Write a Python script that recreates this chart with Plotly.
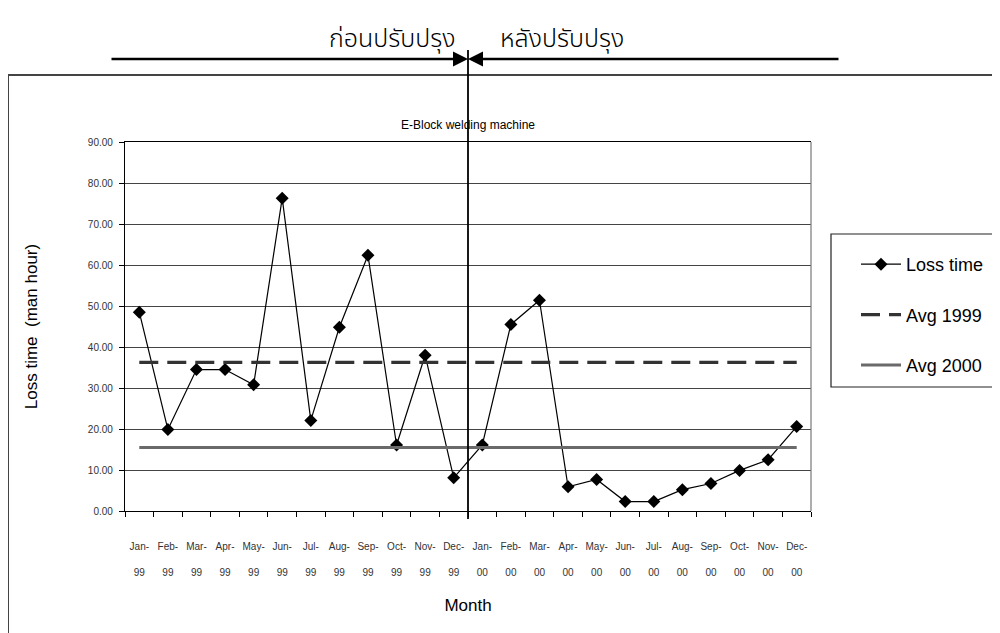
import plotly.graph_objects as go

months = ["Jan-<br><br>99", "Feb-<br><br>99", "Mar-<br><br>99", "Apr-<br><br>99", "May-<br><br>99", "Jun-<br><br>99",
          "Jul-<br><br>99", "Aug-<br><br>99", "Sep-<br><br>99", "Oct-<br><br>99", "Nov-<br><br>99", "Dec-<br><br>99",
          "Jan-<br><br>00", "Feb-<br><br>00", "Mar-<br><br>00", "Apr-<br><br>00", "May-<br><br>00", "Jun-<br><br>00",
          "Jul-<br><br>00", "Aug-<br><br>00", "Sep-<br><br>00", "Oct-<br><br>00", "Nov-<br><br>00", "Dec-<br><br>00"]
loss_time = [48.5, 19.9, 34.5, 34.5, 30.8, 76.3, 22.1, 44.8, 62.4, 16.1, 38.0, 8.1,
             16.1, 45.5, 51.4, 5.9, 7.7, 2.3, 2.3, 5.2, 6.7, 9.9, 12.5, 20.6]
avg_1999 = [36.25] * len(months)
avg_2000 = [15.5] * len(months)

FONT = "Arial, Liberation Sans, sans-serif"
THAI = "Noto Sans Thai, Loma, Garuda, sans-serif"

# the page body has an 8px margin, so page coordinates are offset by 8px
OFF = 8

fig = go.Figure()
fig.add_trace(go.Scatter(x=months, y=loss_time, name="Loss time", mode="lines+markers",
                         line=dict(color="black", width=1.2),
                         marker=dict(symbol="diamond", size=10, color="black"),
                         legendgroup="a"))
fig.add_trace(go.Scatter(x=months, y=avg_1999, name="Avg 1999", mode="lines",
                         line=dict(color="#333333", width=3.2, dash="19px,9px"),
                         legendgroup="b"))
fig.add_trace(go.Scatter(x=months, y=avg_2000, name="Avg 2000", mode="lines",
                         line=dict(color="#6a6a6a", width=3),
                         legendgroup="c"))

def px_x(p):
    return (p - 125) / 686.0

def px_y(p):
    return (511 - p) / 369.0

shapes = [
    # outer frame
    dict(type="rect", xref="paper", yref="paper", x0=px_x(8), x1=px_x(1010), y0=px_y(650), y1=px_y(75),
         line=dict(color="#444444", width=2), layer="below"),
    # right border of plot area
    dict(type="line", xref="paper", yref="paper", x0=1, x1=1, y0=0, y1=1,
         line=dict(color="#777777", width=1.2)),
    # legend box
    dict(type="rect", xref="paper", yref="paper", x0=px_x(831), x1=px_x(1010), y0=px_y(387), y1=px_y(234),
         line=dict(color="#222222", width=1.2)),
    # divider between before/after improvement
    dict(type="line", xref="x", yref="paper", x0=11.5, x1=11.5, y0=px_y(519), y1=px_y(50),
         line=dict(color="black", width=1.8)),
]

annotations = [
    dict(text="ก่อนปรับปรุง", xref="paper", yref="paper", x=px_x(392), y=px_y(39),
         showarrow=False, font=dict(family=THAI, size=25, color="black", weight=300),
         xanchor="center", yanchor="middle"),
    dict(text="หลังปรับปรุง", xref="paper", yref="paper", x=px_x(562), y=px_y(39),
         showarrow=False, font=dict(family=THAI, size=25, color="black", weight=300),
         xanchor="center", yanchor="middle"),
    dict(text="", xref="x", yref="paper", x=11.5, y=px_y(59), ax=-358, ay=0, axref="pixel", ayref="pixel",
         showarrow=True, arrowhead=2, arrowsize=1.2, arrowwidth=2.5, arrowcolor="black", standoff=0),
    dict(text="", xref="x", yref="paper", x=11.5, y=px_y(59), ax=372, ay=0, axref="pixel", ayref="pixel",
         showarrow=True, arrowhead=2, arrowsize=1.2, arrowwidth=2.5, arrowcolor="black", standoff=0),
]

fig.update_layout(
    width=1000, height=633,
    margin=dict(l=125 - OFF, r=189 + OFF, t=142 - OFF, b=122 + OFF, autoexpand=False),
    paper_bgcolor="white", plot_bgcolor="white",
    font=dict(family=FONT, color="black"),
    title=dict(text="E-Block welding machine", x=(468 - OFF) / 1000.0, xref="container", xanchor="center",
               y=1 - (125 - OFF) / 633.0, yref="container", yanchor="middle",
               font=dict(family=FONT, size=12, color="black")),
    showlegend=True,
    legend=dict(x=px_x(856), y=px_y(246), xanchor="left", yanchor="top",
                font=dict(family=FONT, size=18, color="black"),
                bgcolor="rgba(0,0,0,0)", borderwidth=0, tracegroupgap=24,
                itemwidth=40),
    shapes=shapes,
    annotations=annotations,
    hovermode=False,
)

fig.update_xaxes(
    type="category", tickson="boundaries", ticks="outside", ticklen=5, tickcolor="black",
    showline=True, linecolor="black", linewidth=1.2, showgrid=False, mirror=True,
    tickangle=0, automargin=False,
    tickfont=dict(family=FONT, size=10, color="#333333"),
    ticklabelstandoff=26,
    title=dict(text="Month", font=dict(family=FONT, size=17, color="black"), standoff=22),
    range=[-0.5, 23.5],
)
fig.update_yaxes(
    range=[0, 90], dtick=10, tickformat=".2f", ticks="outside", ticklen=5, tickcolor="black",
    showline=True, linecolor="black", linewidth=1.2, automargin=False,
    showgrid=True, gridcolor="#444444", gridwidth=1,
    tickfont=dict(family=FONT, size=10, color="#333333"),
    ticklabelstandoff=4,
    title=dict(text="Loss time  (man hour)", font=dict(family=FONT, size=17, color="black"), standoff=45),
    zeroline=False,
)

fig.write_html("out.html")
